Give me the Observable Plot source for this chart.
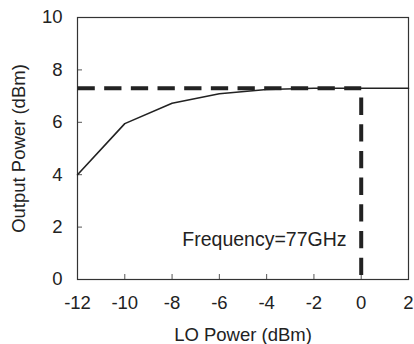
<!DOCTYPE html>
<html>
<head>
<meta charset="utf-8">
<script src="https://cdn.jsdelivr.net/npm/d3@7"></script>
<script src="https://cdn.jsdelivr.net/npm/@observablehq/plot@0.6"></script>
<style>
  html, body { margin: 0; padding: 0; background: #fff; }
  svg { display: block; }
  #chart g[aria-label$="tick label"], #chart g[aria-label$="tick label"] text { font-size: 18.5px; }
</style>
</head>
<body>
<div id="chart"></div>
<script>
const loPower = [-12, -10, -8, -6, -4, -2, 0, 2];
const outPower = [4.0, 5.95, 6.73, 7.09, 7.25, 7.3, 7.3, 7.3];
const satX = [-12, 0];
const satY = [7.3, 7.3];
const vertX = [0, 0];
const vertY = [7.3, 0];
const xTicks = [-12, -10, -8, -6, -4, -2, 0, 2];
const yTicks = [0, 2, 4, 6, 8, 10];
const noteText = ["Frequency=77GHz"];
const noteX = [-0.62];
const noteY = [1.5];

const curve = loPower.map((x, i) => ({x, y: outPower[i]}));
const hLine = satX.map((x, i) => ({x, y: satY[i]}));
const vLine = vertX.map((x, i) => ({x, y: vertY[i]}));
const notes = noteText.map((t, i) => ({t, x: noteX[i], y: noteY[i]}));

const ink = "#222";
const chart = Plot.plot({
  width: 414,
  height: 344,
  marginLeft: 77,
  marginRight: 6,
  marginTop: 17,
  marginBottom: 65,
  style: {fontFamily: "'Liberation Sans', Arial, sans-serif", fontSize: "18.5px", background: "#fff", color: ink},
  x: {domain: [-12, 2]},
  y: {domain: [0, 10]},
  marks: [
    Plot.axisX({ticks: xTicks, tickSize: -5, text: null, stroke: "#555", label: null}),
    Plot.axisX({ticks: xTicks, tickSize: 0, tickPadding: 16, fontSize: 18.5, fill: ink, label: "LO Power (dBm)", labelAnchor: "center", labelOffset: 61, labelArrow: "none", tickFormat: d => d < 0 ? "-" + Math.abs(d) : String(d)}),
    Plot.axisY({ticks: yTicks, tickSize: -5, text: null, stroke: "#555", label: null}),
    Plot.axisY({ticks: yTicks, tickSize: 0, tickPadding: 15, fontSize: 18.5, fill: ink, label: "Output Power (dBm)", labelAnchor: "center", labelOffset: 66, labelArrow: "none"}),
    Plot.frame({stroke: "#333", strokeWidth: 1.2}),
    Plot.line(curve, {x: "x", y: "y", stroke: ink, strokeWidth: 1.6}),
    Plot.line(hLine, {x: "x", y: "y", stroke: ink, strokeWidth: 4, strokeDasharray: "17.3,9.37", strokeLinecap: "butt"}),
    Plot.line(vLine, {x: "x", y: "y", stroke: ink, strokeWidth: 4, strokeDasharray: "17.3,9.37", strokeDashoffset: 17.3, strokeLinecap: "butt"}),
    Plot.text(notes, {x: "x", y: "y", text: "t", textAnchor: "end", fontSize: 19.5, fill: ink})
  ]
});
document.getElementById("chart").appendChild(chart);
</script>
</body>
</html>
